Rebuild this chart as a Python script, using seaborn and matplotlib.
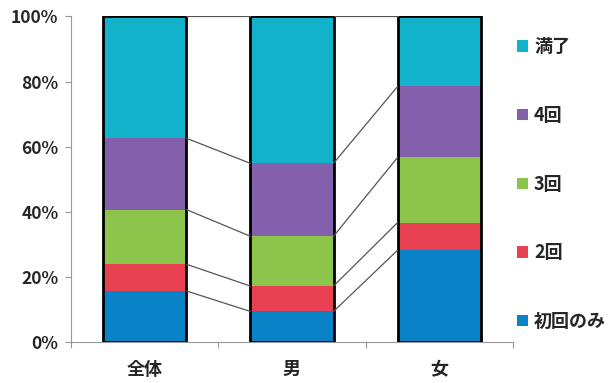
import numpy as np
import pandas as pd
import matplotlib
matplotlib.use('Agg')
import matplotlib.pyplot as plt
from matplotlib.patches import Patch
from matplotlib.ticker import FixedLocator
import seaborn as sns

# データ（%）
categories = ['全体', '男', '女']
series = ['初回のみ', '2回', '3回', '4回', '満了']
first_only = [15.7, 9.4, 28.2]
second = [8.2, 7.8, 8.5]
third = [16.8, 15.3, 20.0]
fourth = [21.9, 22.4, 21.8]
finished = [37.4, 45.1, 21.5]
colors = ['#0A82C8', '#E84252', '#8CC44C', '#8460AC', '#12B2CA']

sns.set_theme(style='white')
plt.rcParams['font.family'] = ['Noto Sans CJK JP', 'DejaVu Sans']

df = pd.DataFrame({'cat': categories, '初回のみ': first_only, '2回': second,
                   '3回': third, '4回': fourth, '満了': finished})
cum = df[series].cumsum(axis=1)
cum['cat'] = df['cat']

fig = plt.figure(figsize=(6.12, 3.83), dpi=100)
ax = fig.add_axes([0.116, 0.107, 0.722, 0.85])

w = 0.565
# 積み上げ：上から順に重ねて描く
for s, c in reversed(list(zip(series, colors))):
    sns.barplot(data=cum, x='cat', y=s, color=c, width=w, linewidth=0,
                saturation=1, ax=ax, order=categories)
# 外枠
sns.barplot(data=cum, x='cat', y='満了', width=w, fill=False, edgecolor='black',
            linewidth=2, ax=ax, order=categories)

# 区分線
for s in series:
    vals = cum[s].values
    for i in range(len(categories) - 1):
        ax.plot([i + w / 2, i + 1 - w / 2], [vals[i], vals[i + 1]],
                color='#555555', lw=0.9, zorder=1)

ax.set_xlim(-0.5, 2.5)
ax.set_ylim(0, 100)
ax.set_yticks([0, 20, 40, 60, 80, 100])
ax.set_yticklabels([f'{v}%' for v in [0, 20, 40, 60, 80, 100]],
                   fontsize=12.5, fontweight='bold')
ax.set_xticks(range(len(categories)))
ax.set_xticklabels(categories, fontsize=13, fontweight='bold')
ax.xaxis.set_minor_locator(FixedLocator([-0.5, 0.5, 1.5, 2.5]))
ax.tick_params(axis='x', which='major', length=0, pad=13)
ax.tick_params(axis='x', which='minor', length=4, color='#999999', width=0.8, bottom=True)
ax.tick_params(axis='y', length=4, color='#999999', width=0.8, left=True, pad=5)
ax.set_xlabel('')
ax.set_ylabel('')
for side in ['top', 'right']:
    ax.spines[side].set_visible(False)
for side in ['left', 'bottom']:
    ax.spines[side].set_color('#999999')
    ax.spines[side].set_linewidth(0.8)

handles = [Patch(facecolor=c, edgecolor='none') for c in reversed(colors)]
fig.legend(handles, list(reversed(series)), loc='upper left',
           bbox_to_anchor=(0.818, 0.945), frameon=False, handlelength=0.6,
           handleheight=0.6, handletextpad=0.35, labelspacing=2.75,
           prop={'size': 13, 'weight': 'bold'})

fig.savefig('out.png', dpi=100)
